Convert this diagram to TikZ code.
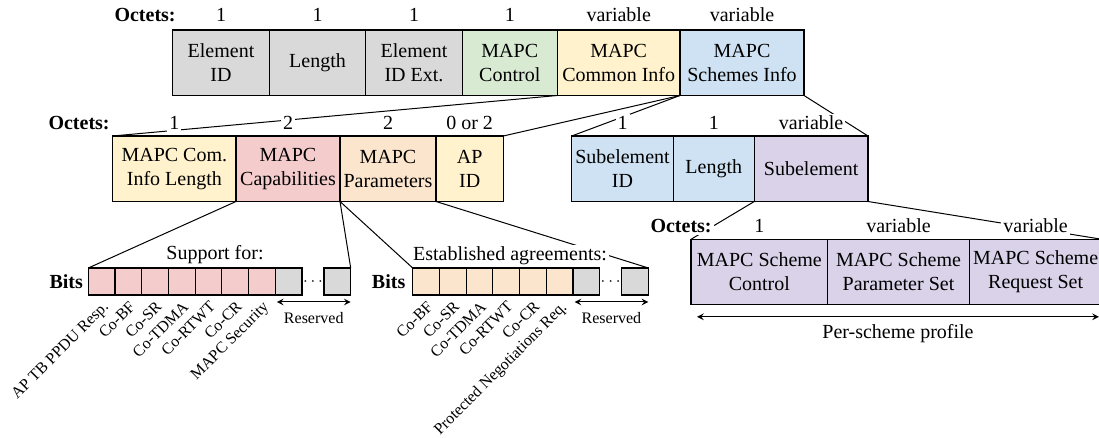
\documentclass[tikz,border=0pt]{standalone}
\usepackage{fontspec}
\setmainfont{Liberation Serif}
\usetikzlibrary{calc,positioning}
\definecolor{fgrey}{HTML}{D9D9D9}
\definecolor{fgreen}{HTML}{D9EAD3}
\definecolor{fyellow}{HTML}{FFF2CC}
\definecolor{fblue}{HTML}{CFE2F3}
\definecolor{fred}{HTML}{F4CCCC}
\definecolor{forange}{HTML}{FCE5CD}
\definecolor{fpurple}{HTML}{D9D2E9}
\tikzset{
	field/.style={draw, line width=0.6pt, anchor=north west, align=center, inner sep=1pt, outer sep=0pt, minimum height=32.75pt},
	bitbox/.style={draw, line width=0.6pt, anchor=north west, inner sep=0pt, outer sep=0pt, minimum width=13.35pt, minimum height=13.5pt},
	num/.style={fill=white, inner sep=1pt, text height=7pt, text depth=0pt},
	octets/.style={num, font=\bfseries, anchor=east},
	bitsl/.style={font=\bfseries, inner sep=1pt},
	bitname/.style={font=\footnotesize, rotate=45, anchor=north east, inner sep=1pt},
	link/.style={line width=0.5pt},
	span/.style={<->, >=stealth, line width=0.5pt}
}

\begin{document}
\begin{tikzpicture}[x=0.5pt, y=-0.5pt]
			%%%%% START %%%%%
			\useasboundingbox (0,0) rectangle (1099,438);
			
			% element
			\node[field, fill=fgrey, minimum width=48.3pt] (eid) at (172.7,30) {Element\\ID};
			\node[field, fill=fgrey, minimum width=48.2pt] (len) at (269.3,30) {Length};
			\node[field, fill=fgrey, minimum width=48.3pt] (ext) at (365.7,30) {Element\\ID Ext.};
			\node[field, fill=fgreen, minimum width=47.5pt] (ctrl) at (462.3,30) {MAPC\\Control};
			\node[field, fill=fyellow, minimum width=61.4pt] (common) at (557.3,30) {MAPC\\Common Info};
			\node[field, fill=fblue, minimum width=62pt] (schemes) at (680,30) {MAPC\\Schemes Info};
			
			% common info / schemes info
			\node[field, fill=fyellow, minimum width=61.65pt] (cil) at (112.7,136) {MAPC Com.\\Info Length};
			\node[field, fill=fred, minimum width=52pt] (cap) at (236,136) {MAPC\\Capabilities};
			\node[field, fill=forange, minimum width=48pt] (par) at (340,136) {MAPC\\Parameters};
			\node[field, fill=fyellow, minimum width=33.65pt] (apid) at (436,136) {AP\\ID};
			
			\node[field, fill=fblue, minimum width=50.8pt] (sid) at (571.7,136) {Subelement\\ID};
			\node[field, fill=fblue, minimum width=40.5pt] (slen) at (673.3,136) {Length};
			\node[field, fill=fpurple, minimum width=56.85pt] (sub) at (754.3,136) {Subelement};
			
			% subelement
			\node[field, fill=fpurple, minimum width=68.35pt] (sc) at (691,239.3) {MAPC Scheme\\Control};
			\node[field, fill=fpurple, minimum width=70.8pt] (sp) at (827.7,239.3) {MAPC Scheme\\Parameter Set};
			\node[field, fill=fpurple, minimum width=66.35pt] (sr) at (969.3,239.3) {MAPC Scheme\\Request Set};
			
			% capabilities bits
			\node[bitbox, fill=fred] (capb1) at (88.3,268) {};
			\node[bitbox, fill=fred] (capb2) at (115,268) {};
			\node[bitbox, fill=fred] (capb3) at (141.7,268) {};
			\node[bitbox, fill=fred] (capb4) at (168.4,268) {};
			\node[bitbox, fill=fred] (capb5) at (195.1,268) {};
			\node[bitbox, fill=fred] (capb6) at (221.8,268) {};
			\node[bitbox, fill=fred] (capb7) at (248.5,268) {};
			\node[bitbox, fill=fgrey] (capb8) at (275.2,268) {};
			\node[bitbox, fill=fgrey] (capb9) at (324,268) {};
			
			% parameters bits
			\node[bitbox, fill=forange] (parb1) at (412.7,268) {};
			\node[bitbox, fill=forange] (parb2) at (439.4,268) {};
			\node[bitbox, fill=forange] (parb3) at (466.1,268) {};
			\node[bitbox, fill=forange] (parb4) at (492.8,268) {};
			\node[bitbox, fill=forange] (parb5) at (519.5,268) {};
			\node[bitbox, fill=forange] (parb6) at (546.2,268) {};
			\node[bitbox, fill=fgrey] (parb7) at (572.9,268) {};
			\node[bitbox, fill=fgrey] (parb8) at (621.7,268) {};
			
			\node[inner sep=0pt, font=\footnotesize] (capdots) at ($(capb8.east)!0.5!(capb9.west)$) {$\cdots$};
			\node[inner sep=0pt, font=\footnotesize] (pardots) at ($(parb7.east)!0.5!(parb8.west)$) {$\cdots$};
			
			% fan-out lines
			\draw[link] (common.south west) -- (cil.north west);
			\draw[link] (common.south east) -- (apid.north east);
			\draw[link] (schemes.south west) -- (sid.north west);
			\draw[link] (schemes.south east) -- (sub.north east);
			\draw[link] (cap.south west) -- (capb1.north west);
			\draw[link] (cap.south east) -- (capb9.north east);
			\draw[link] (par.south west) -- (parb1.north west);
			\draw[link] (par.south east) -- (parb8.north east);
			\draw[link] (sub.south west) -- (sc.north west);
			\draw[link] (sub.south east) -- (sr.north east);
			
			% octets
			\node[octets] (oct1) at (178,15) {Octets:};
			\node[num, above=3pt of eid] (neid) {1};
			\node[num, above=3pt of len] (nlen) {1};
			\node[num, above=3pt of ext] (next) {1};
			\node[num, above=3pt of ctrl] (nctrl) {1};
			\node[num, above=3pt of common] (ncommon) {variable};
			\node[num, above=3pt of schemes] (nschemes) {variable};
			
			\node[octets] (oct2) at (112,123) {Octets:};
			\node[num, above=2pt of cil] (ncil) {1};
			\node[num, above=2pt of cap] (ncap) {2};
			\node[num, above=2pt of par] (npar) {2};
			\node[num, above=2pt of apid] (napid) {0 or 2};
			\node[num, above=2pt of sid] (nsid) {1};
			\node[num, above=2pt of slen] (nslen) {1};
			\node[num, above=2pt of sub] (nsub) {variable};
			
			\node[octets] (oct3) at (714,226) {Octets:};
			\node[num, above=2pt of sc] (nsc) {1};
			\node[num, above=2pt of sp] (nsp) {variable};
			\node[num, above=2pt of sr] (nsr) {variable};
			
			% bit names
			\node[bitsl, left=1.5pt of capb1] (capbits) {Bits};
			\node[num] (capsup) at (215,253) {Support for:};
			\node[bitname] (capl1) at ([yshift=-1pt]capb1.south) {AP TB PPDU Resp.};
			\node[bitname] (capl2) at ([yshift=-1pt]capb2.south) {Co-BF};
			\node[bitname] (capl3) at ([yshift=-1pt]capb3.south) {Co-SR};
			\node[bitname] (capl4) at ([yshift=-1pt]capb4.south) {Co-TDMA};
			\node[bitname] (capl5) at ([yshift=-1pt]capb5.south) {Co-RTWT};
			\node[bitname] (capl6) at ([yshift=-1pt]capb6.south) {Co-CR};
			\node[bitname] (capl7) at ([yshift=-1pt]capb7.south) {MAPC Security};
			\draw[span] ([xshift=0.8pt, yshift=-3.5pt]capb8.south west) -- node[below=1.5pt, font=\footnotesize] (capres) {Reserved} ([yshift=-3.5pt]capb9.south east);
			
			\node[bitsl, left=2.5pt of parb1] (parbits) {Bits};
			\node[num] (parest) at (510,254) {Established agreements:};
			\node[bitname] (parl1) at ([yshift=-1pt]parb1.south) {Co-BF};
			\node[bitname] (parl2) at ([yshift=-1pt]parb2.south) {Co-SR};
			\node[bitname] (parl3) at ([yshift=-1pt]parb3.south) {Co-TDMA};
			\node[bitname] (parl4) at ([yshift=-1pt]parb4.south) {Co-RTWT};
			\node[bitname] (parl5) at ([yshift=-1pt]parb5.south) {Co-CR};
			\node[bitname] (parl6) at ([yshift=-1pt]parb6.south) {Protected Negotiations Req.};
			\draw[span] ([xshift=0.8pt, yshift=-3.5pt]parb7.south west) -- node[below=1.5pt, font=\footnotesize] (parres) {Reserved} ([yshift=-3.5pt]parb8.south east);
			
			\draw[span] ([xshift=3pt, yshift=-6pt]sc.south west) -- node[below] (prof) {Per-scheme profile} ([xshift=-1.5pt, yshift=-6pt]sr.south east);
			
			%%%%% END %%%%%
\end{tikzpicture}
\end{document}
